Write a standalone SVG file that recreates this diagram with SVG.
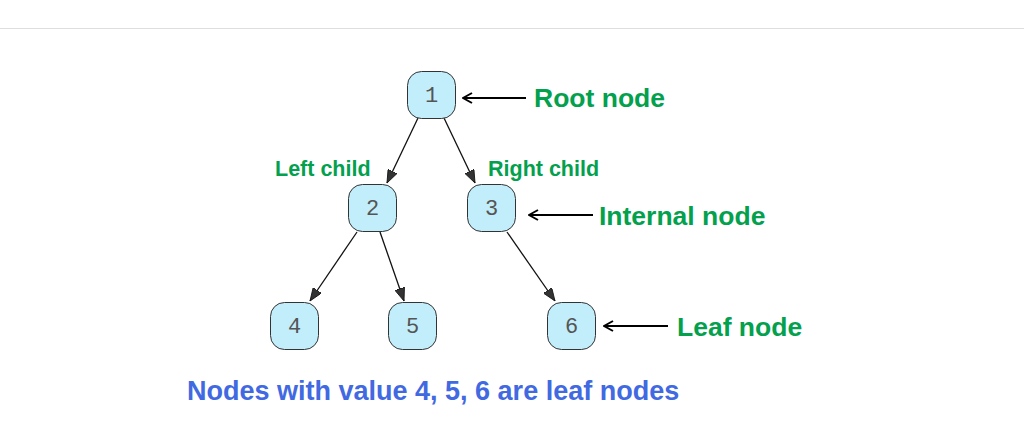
<svg xmlns="http://www.w3.org/2000/svg" width="1024" height="445" viewBox="0 0 1024 445">
<style>
.node rect{fill:#c2eefb;stroke:#333;stroke-width:1}
.node text{font-family:"Liberation Mono",monospace;font-size:22px;fill:#555;text-anchor:middle}
.edge{stroke:#111;stroke-width:1.3;fill:none;marker-end:url(#tri)}
.ann{stroke:#000;stroke-width:2;fill:none;marker-end:url(#vee)}
.lbl{font-family:"Liberation Sans",Arial,sans-serif;font-weight:bold;fill:#03a04e}
.big{font-size:26.5px}
.small{font-size:21.5px}
</style>
<defs>
<marker id="tri" viewBox="0 0 13 10" refX="13" refY="5" markerWidth="13" markerHeight="10" markerUnits="userSpaceOnUse" orient="auto">
<path d="M0,0 L13,5 L0,10 Z" fill="#333" stroke="#111" stroke-width="0.8"/>
</marker>
<marker id="vee" viewBox="0 0 12 12" refX="11" refY="6" markerWidth="12" markerHeight="12" markerUnits="userSpaceOnUse" orient="auto">
<path d="M2,1 L11,6 L2,11" fill="none" stroke="#000" stroke-width="2"/>
</marker>
</defs>
<rect width="1024" height="445" fill="#fff"/>
<line x1="0" y1="28.5" x2="1024" y2="28.5" stroke="#dedede" stroke-width="1"/>
<g id="connectors">
<line class="edge" x1="418" y1="118" x2="387" y2="183"/>
<line class="edge" x1="444" y1="118" x2="475" y2="183"/>
<line class="edge" x1="357" y1="232" x2="310" y2="301"/>
<line class="edge" x1="380" y1="232" x2="404" y2="301"/>
<line class="edge" x1="507" y1="232" x2="555" y2="301"/>
</g>
<g id="node1" class="node"><rect x="407.5" y="71.5" width="48" height="47" rx="14"/><text x="431.5" y="102">1</text></g>
<g id="node2" class="node"><rect x="348.5" y="184.5" width="48" height="47" rx="14"/><text x="372.5" y="215">2</text></g>
<g id="node3" class="node"><rect x="467.5" y="184.5" width="48" height="47" rx="14"/><text x="491.5" y="215">3</text></g>
<g id="node4" class="node"><rect x="270.5" y="302.5" width="48" height="47" rx="14"/><text x="294.5" y="333">4</text></g>
<g id="node5" class="node"><rect x="388.5" y="302.5" width="48" height="47" rx="14"/><text x="412.5" y="333">5</text></g>
<g id="node6" class="node"><rect x="547.5" y="302.5" width="48" height="47" rx="14"/><text x="571.5" y="333">6</text></g>
<g id="annotations">
<line class="ann" x1="526" y1="98" x2="463" y2="98"/>
<line class="ann" x1="593" y1="215" x2="529" y2="215"/>
<line class="ann" x1="668" y1="326" x2="604" y2="326"/>
<text class="lbl big" x="534" y="107">Root node</text>
<text class="lbl small" x="275" y="176">Left child</text>
<text class="lbl small" x="488" y="176">Right child</text>
<text class="lbl big" x="599" y="225">Internal node</text>
<text class="lbl big" x="677" y="336">Leaf node</text>
<text x="187" y="400" font-family="Liberation Sans,Arial,sans-serif" font-weight="bold" font-size="27" fill="#4169e1">Nodes with value 4, 5, 6 are leaf nodes</text>
</g>
</svg>
